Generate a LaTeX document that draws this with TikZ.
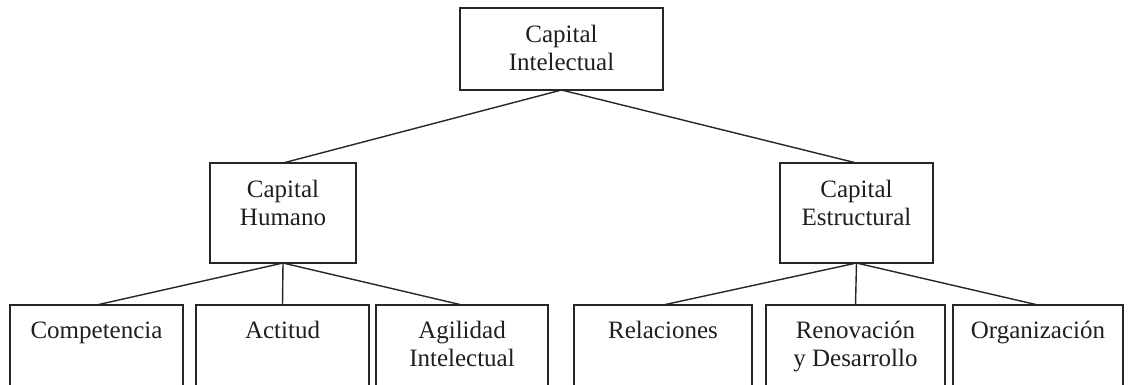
\documentclass[tikz,border=0pt]{standalone}
\usepackage{fontspec}
\setmainfont{Liberation Serif}
\usepackage{array}
\newcommand{\lines}[1]{\begin{tabular}[t]{@{}c@{}}#1\end{tabular}}
\begin{document}
\begin{tikzpicture}[x=1pt,y=-1pt,
  every node/.style={inner sep=0pt, outer sep=0pt},
  box/.style={draw=black!85, line width=1.4pt, rectangle, anchor=north west},
  lbl/.style={anchor=base, text=black!88,
    font=\fontsize{25}{28.5}\selectfont},
  link/.style={draw=black!85, line width=1.4pt}]
  \useasboundingbox (0,0) rectangle (1130,384);
  \clip (0,0) rectangle (1130,384);

  % level 0
  \node[box, minimum width=203pt, minimum height=82pt] (ci) at (460,8) {};
  % level 1
  \node[box, minimum width=146pt, minimum height=100pt] (ch) at (210,163) {};
  \node[box, minimum width=153pt, minimum height=100pt] (ce) at (780,163) {};
  % level 2 (bottom edges run off the page)
  \node[box, minimum width=173pt, minimum height=120pt] (comp) at (10,305) {};
  \node[box, minimum width=173pt, minimum height=120pt] (act)  at (196,305) {};
  \node[box, minimum width=172pt, minimum height=120pt] (agil) at (376,305) {};
  \node[box, minimum width=178pt, minimum height=120pt] (rel)  at (574,305) {};
  \node[box, minimum width=179pt, minimum height=120pt] (ren)  at (766,305) {};
  \node[box, minimum width=170pt, minimum height=120pt] (org)  at (953,305) {};

  % labels, first baseline 34px below each box top
  \node[lbl] (tci)   at ([yshift=-34pt]ci.north)   {\lines{Capital\\Intelectual}};
  \node[lbl] (tch)   at ([yshift=-34pt]ch.north)   {\lines{Capital\\Humano}};
  \node[lbl] (tce)   at ([yshift=-34pt]ce.north)   {\lines{Capital\\Estructural}};
  \node[lbl] (tcomp) at ([yshift=-33pt]comp.north) {Competencia};
  \node[lbl] (tact)  at ([yshift=-33pt]act.north)  {Actitud};
  \node[lbl] (tagil) at ([yshift=-33pt]agil.north) {\lines{Agilidad\\Intelectual}};
  \node[lbl] (trel)  at ([yshift=-33pt]rel.north)  {Relaciones};
  \node[lbl] (tren)  at ([yshift=-33pt]ren.north)  {\lines{Renovación\\y Desarrollo}};
  \node[lbl] (torg)  at ([yshift=-33pt]org.north)  {Organización};

  % connectors
  \draw[link] (ci.south) -- (ch.north);
  \draw[link] (ci.south) -- (ce.north);
  \draw[link] (ch.south) -- (comp.north);
  \draw[link] (ch.south) -- (act.north);
  \draw[link] (ch.south) -- (agil.north);
  \draw[link] (ce.south) -- (rel.north);
  \draw[link] (ce.south) -- (ren.north);
  \draw[link] (ce.south) -- (org.north);
\end{tikzpicture}
\end{document}
